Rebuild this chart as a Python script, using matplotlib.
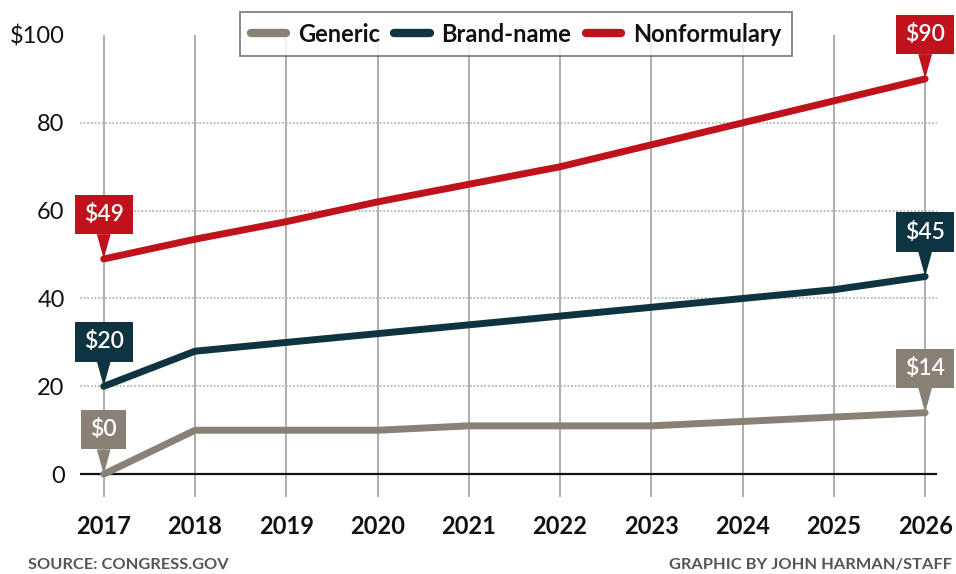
import matplotlib.pyplot as plt
from matplotlib.lines import Line2D

plt.rcParams['font.family'] = ['Lato', 'DejaVu Sans']

years = [2017, 2018, 2019, 2020, 2021, 2022, 2023, 2024, 2025, 2026]
generic = [0, 10, 10, 10, 11, 11, 11, 12, 13, 14]
brand_name = [20, 28, 30, 32, 34, 36, 38, 40, 42, 45]
nonformulary = [49, 53.5, 57.5, 62, 66, 70, 75, 80, 85, 90]

series_names = ["Generic", "Brand-name", "Nonformulary"]
series_values = [generic, brand_name, nonformulary]
colors = ["#8a8176", "#0f3441", "#c0121d"]

y_ticks = [0, 20, 40, 60, 80, 100]
y_tick_labels = ["0", "20", "40", "60", "80", "$100"]

fig = plt.figure(figsize=(9.56, 5.74), dpi=100)
ax = fig.add_axes([80 / 956, 1 - 497 / 574, 857 / 956, 462 / 574])

ax.set_xlim(2016.74, 2026.13)
ax.set_ylim(-5.2, 99.8)

# grid: solid verticals, dotted horizontals, black baseline
for yr in years:
    ax.axvline(yr, color="#a8a8a8", lw=1.3, zorder=1)
for v in [20, 40, 60, 80]:
    ax.axhline(v, color="#b5b5b5", lw=1.3, ls=(0, (1, 1)), zorder=1)
ax.axhline(0, color="#111111", lw=1.6, zorder=2)

for name, vals, c in zip(series_names, series_values, colors):
    ax.plot(years, vals, color=c, lw=5, solid_capstyle="round",
            solid_joinstyle="round", zorder=3, label=name)

# callout boxes at the first and last points
for vals, c in zip(series_values, colors):
    for i in [0, -1]:
        ax.annotate(f"${vals[i]:g}", xy=(years[i], vals[i]), xytext=(0, 32),
                    textcoords="offset points", ha="center", va="center",
                    fontsize=16.5, fontweight="semibold", color="white", zorder=5,
                    annotation_clip=False,
                    bbox=dict(boxstyle="square,pad=0.4", fc=c, ec="none"),
                    arrowprops=dict(arrowstyle="wedge,tail_width=0.6,shrink_factor=0.5",
                                    fc=c, ec="none", shrinkA=0, shrinkB=0))

for s in ax.spines.values():
    s.set_visible(False)

ax.set_xticks(years)
ax.set_xticklabels([str(y) for y in years], fontsize=17, fontweight="bold", color="#111111")
ax.set_yticks(y_ticks)
ax.set_yticklabels(y_tick_labels, fontsize=17, color="#111111")
ax.tick_params(axis="x", length=0, pad=13)
ax.tick_params(axis="y", length=0, pad=11)

handles = [Line2D([0], [0], color=c, lw=6, solid_capstyle="round") for c in colors]
leg = fig.legend(handles, series_names, loc="center", bbox_to_anchor=(516 / 956, 1 - 34 / 574),
                 ncol=3, fontsize=17, frameon=True, fancybox=False, handlelength=1.5,
                 handletextpad=0.5, columnspacing=0.6, borderpad=0.45)
leg.get_frame().set_edgecolor("#555555")
leg.get_frame().set_linewidth(1.2)
for t in leg.get_texts():
    t.set_fontweight("bold")
    t.set_color("#111111")

fig.text(28 / 956, 1 - 565 / 574, "SOURCE: CONGRESS.GOV", fontsize=11.8,
         fontweight="bold", color="#555555", va="center", ha="left")
fig.text(952 / 956, 1 - 565 / 574, "GRAPHIC BY JOHN HARMAN/STAFF", fontsize=11.8,
         fontweight="bold", color="#555555", va="center", ha="right")

fig.savefig("out.png", dpi=100, facecolor="white")
